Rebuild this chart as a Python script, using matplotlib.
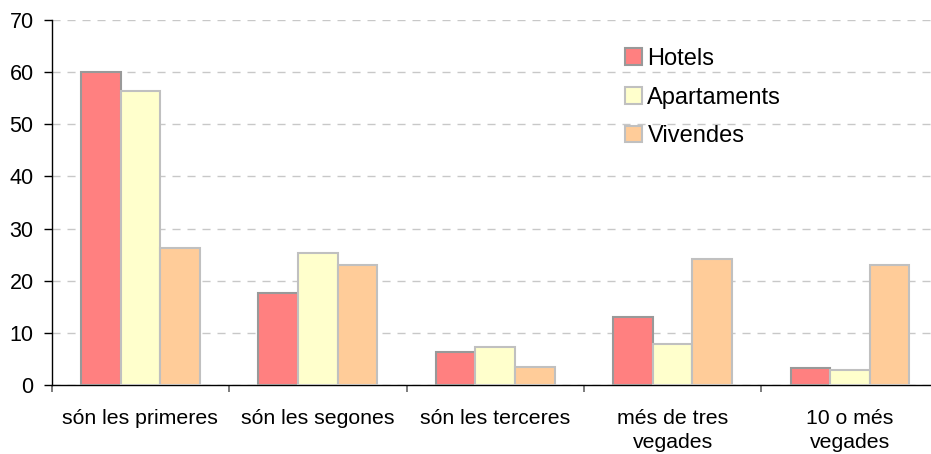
import matplotlib
matplotlib.use("Agg")
import matplotlib.pyplot as plt
import numpy as np

categories = ["són les primeres", "són les segones", "són les terceres",
              "més de tres\nvegades", "10 o més\nvegades"]
series_names = ["Hotels", "Apartaments", "Vivendes"]
hotels = [60.0, 17.6, 6.3, 13.0, 3.2]
apartaments = [56.3, 25.4, 7.2, 7.9, 2.9]
vivendes = [26.2, 23.1, 3.4, 24.1, 23.0]
y_ticks = [0, 10, 20, 30, 40, 50, 60, 70]

fills = ["#FF8080", "#FFFFCC", "#FFCC99"]
edges = ["#999999", "#C0C0C0", "#C0C0C0"]

plt.rcParams['font.family'] = ['Liberation Sans', 'DejaVu Sans']

fig = plt.figure(figsize=(9.31, 4.54), dpi=100)
ax = fig.add_axes([51.7/931, 1-385/454, 5*177.4/931, (385-20)/454])

x = np.arange(len(categories))
w = 0.223
for k, vals in enumerate([hotels, apartaments, vivendes]):
    ax.bar(x + (k-1)*w, vals, width=w, color=fills[k], edgecolor=edges[k],
           linewidth=1.5, label=series_names[k], zorder=3)

ax.set_xlim(-0.5, len(categories)-0.5)
ax.set_ylim(0, 70)
ax.set_yticks(y_ticks)
ax.yaxis.grid(True, color="#C8C8C8", linestyle=(0, (5.8, 5)), linewidth=1.0, zorder=0)
ax.set_xticks(x)
ax.set_xticklabels(categories, fontsize=15.3, linespacing=1.35)
ax.set_xticks(np.arange(len(categories)+1)-0.5, minor=True)
ax.tick_params(axis='x', which='major', length=0, pad=17)
ax.tick_params(axis='x', which='minor', length=5, width=1.2, color="#666666")
ax.tick_params(axis='y', labelsize=15.5, length=6, width=1, pad=7)
for s in ["top", "right"]:
    ax.spines[s].set_visible(False)
ax.spines["left"].set_color("black")
ax.spines["bottom"].set_color("black")
ax.spines["left"].set_linewidth(1.0)
ax.spines["bottom"].set_linewidth(1.0)

leg = ax.legend(loc="upper left", bbox_to_anchor=((625-51.7)/887, (385-48)/365),
                frameon=False, borderpad=0, borderaxespad=0,
                fontsize=17, handlelength=0.7, handleheight=0.7,
                handletextpad=0.25, labelspacing=0.7)

fig.savefig("out.png", dpi=100)
